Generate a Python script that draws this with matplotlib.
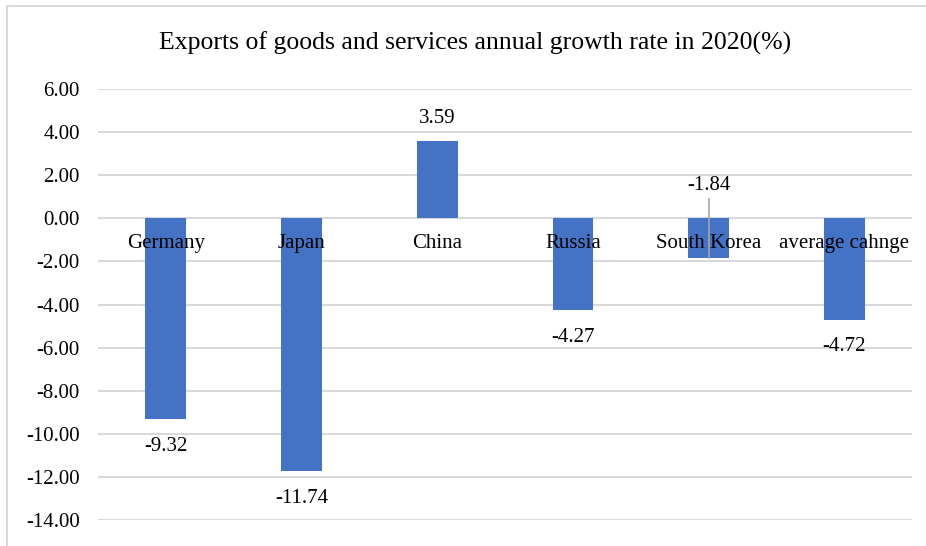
import matplotlib.pyplot as plt
import numpy as np
from matplotlib.patches import Rectangle

countries = ['Germany', 'Japan', 'China', 'Russia', 'South Korea', 'average cahnge']
growth = [-9.32, -11.74, 3.59, -4.27, -1.84, -4.72]
yticks = [6, 4, 2, 0, -2, -4, -6, -8, -10, -12, -14]

plt.rcParams['font.family'] = ['Liberation Serif', 'DejaVu Serif']
fs = 15

fig = plt.figure(figsize=(9.26, 5.46), dpi=100)
ax = fig.add_axes([0.1058, 0.0476, 0.8792, 0.7894])

# outer chart border (cut off at right and bottom like the original)
fig.patches.append(Rectangle((0.0076, -0.1), 1.2, 0.1 + 0.989, transform=fig.transFigure,
                             fill=False, edgecolor='#d9d9d9', linewidth=1.5))

x = np.arange(len(countries))
ax.bar(x, growth, width=0.3, color='#4472C4', zorder=2)

ax.set_xlim(-0.5, len(countries) - 0.5)
ax.set_ylim(-14, 6)
ax.set_yticks(yticks)
ax.set_yticklabels([f'{v:.2f}' for v in yticks], fontsize=fs)
ax.tick_params(axis='y', length=0, pad=13)
ax.set_xticks([])
ax.grid(axis='y', color='#d9d9d9', linewidth=1.5, zorder=0)
for s in ax.spines.values():
    s.set_visible(False)

# category names sit just under the zero line
for i, name in enumerate(countries):
    ax.text(i, -1.15, name, ha='center', va='center', fontsize=fs, zorder=3)

# data labels
for i, v in enumerate(growth):
    if countries[i] == 'South Korea':
        ax.text(i, 1.5, f'{v:.2f}', ha='center', va='center', fontsize=fs, zorder=3)
        ax.plot([i, i], [0.9, -1.85], color='#a6a6a6', linewidth=1.2, zorder=3)
    elif v >= 0:
        ax.text(i, v + 1.05, f'{v:.2f}', ha='center', va='center', fontsize=fs, zorder=3)
    else:
        ax.text(i, v - 1.25, f'{v:.2f}', ha='center', va='center', fontsize=fs, zorder=3)

fig.text(475 / 926, 1 - 43 / 546, 'Exports of goods and services annual growth rate in 2020(%)',
         ha='center', va='center', fontsize=18.5)

fig.savefig('out.png', dpi=100)
